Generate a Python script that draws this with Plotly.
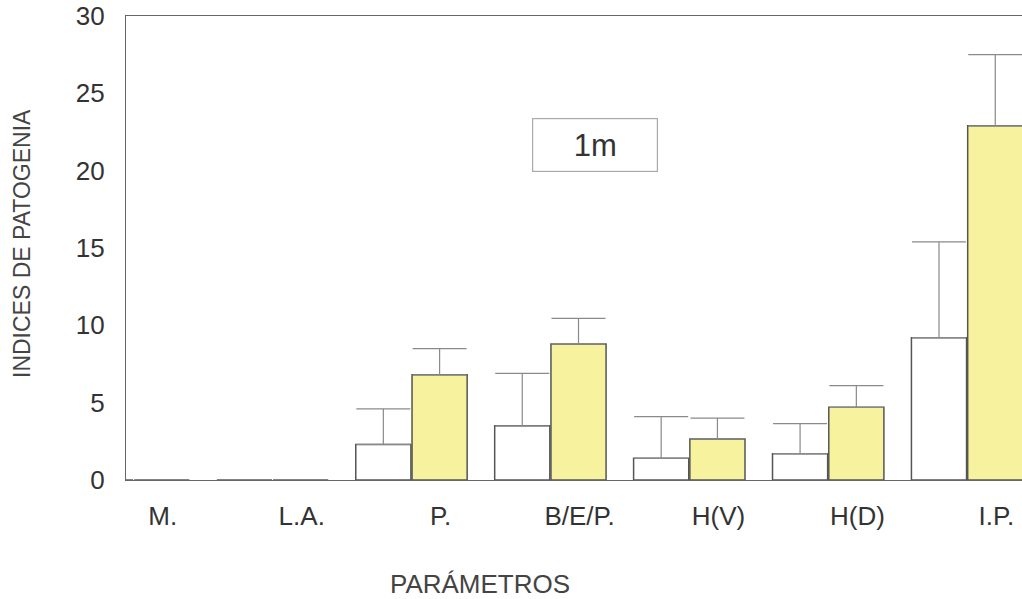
import plotly.graph_objects as go

# Parameters measured at 1 m
categories = ["M.", "L.A.", "P.", "B/E/P.", "H(V)", "H(D)", "I.P."]
series_a_mean = [0, 0, 2.3, 3.5, 1.4, 1.7, 9.2]
series_a_err = [0, 0, 2.3, 3.4, 2.7, 1.95, 6.2]
series_b_mean = [0, 0, 6.8, 8.8, 2.65, 4.7, 22.9]
series_b_err = [0, 0, 1.7, 1.65, 1.35, 1.4, 4.6]
y_ticks = [0, 5, 10, 15, 20, 25, 30]

FONT = "Liberation Sans, Arial, sans-serif"
TEXT = "#333333"
EDGE = "#555555"
ERR = "#8a8a8a"

idx = list(range(len(categories)))

fig = go.Figure()
fig.add_trace(go.Bar(
    x=idx, y=series_a_mean,
    marker=dict(color="white", line=dict(color=EDGE, width=1.5)),
    error_y=dict(type="data", array=series_a_err, arrayminus=[0] * len(idx),
                 symmetric=False, color=ERR, thickness=1.2, width=27),
    showlegend=False,
))
fig.add_trace(go.Bar(
    x=idx, y=series_b_mean,
    marker=dict(color="#f6f29e", line=dict(color=EDGE, width=1.5)),
    error_y=dict(type="data", array=series_b_err, arrayminus=[0] * len(idx),
                 symmetric=False, color=ERR, thickness=1.2, width=27),
    showlegend=False,
))

fig.update_layout(
    width=1022, height=599,
    margin=dict(l=126, r=0, t=16, b=119),
    paper_bgcolor="white", plot_bgcolor="white",
    barmode="group", bargap=0.19, bargroupgap=0.02,
    font=dict(family=FONT, color=TEXT),
    xaxis=dict(
        range=[-0.055, 6.395],
        tickmode="array",
        tickvals=[i + 0.21 for i in idx],
        ticktext=categories,
        tickfont=dict(size=26, color=TEXT),
        ticks="outside", ticklen=13, tickcolor="rgba(0,0,0,0)",
        showgrid=False, zeroline=False,
        showline=True, linecolor="#666666", linewidth=1.2, mirror=True,
    ),
    yaxis=dict(
        range=[0, 30],
        tickmode="array",
        tickvals=y_ticks,
        ticktext=[str(v) for v in y_ticks],
        tickfont=dict(size=26, color=TEXT),
        ticks="outside", ticklen=15, tickcolor="rgba(0,0,0,0)",
        showgrid=False, zeroline=False,
        showline=True, linecolor="#666666", linewidth=1.2,
    ),
    annotations=[
        dict(text="INDICES DE PATOGENIA", textangle=-90,
             xref="paper", yref="paper", x=(22 - 126) / 896, y=(480 - 244) / 464,
             xanchor="center", yanchor="middle", showarrow=False,
             font=dict(size=23, color="#444444", family=FONT)),
        dict(text="PARÁMETROS",
             xref="paper", yref="paper", x=(480 - 126) / 896, y=(480 - 584) / 464,
             xanchor="center", yanchor="middle", showarrow=False,
             font=dict(size=26, color="#444444", family=FONT)),
        dict(text="1m",
             xref="paper", yref="paper", x=(595 - 126) / 896, y=(480 - 145) / 464,
             xanchor="center", yanchor="middle", showarrow=False,
             width=120, height=48, borderpad=2,
             bordercolor="#aaaaaa", borderwidth=1.2, bgcolor="white",
             font=dict(size=31, color="#333333", family=FONT)),
    ],
)

fig.write_html("out.html")
